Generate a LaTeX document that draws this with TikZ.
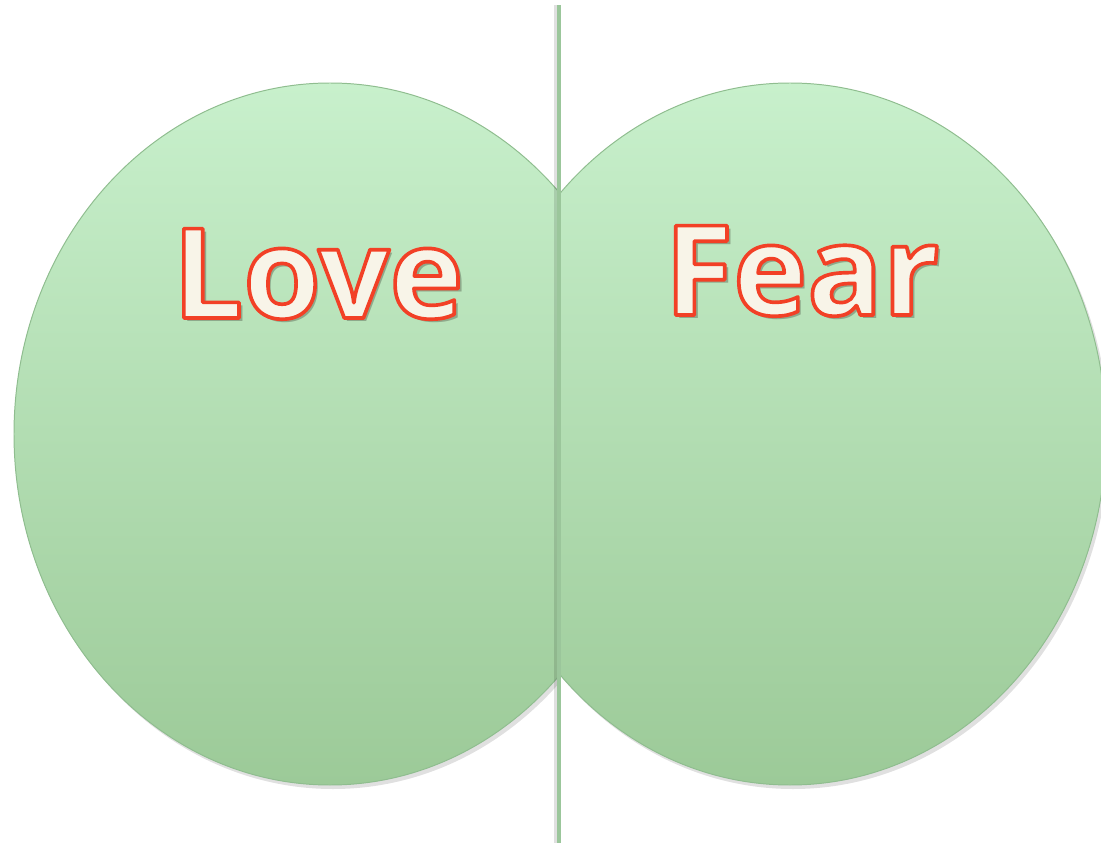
\documentclass[tikz,border=0pt]{standalone}
\usepackage{fontspec}
\setmainfont{Open Sans}
\usetikzlibrary{positioning}
\definecolor{lfTop}{HTML}{C8F0CC}
\definecolor{lfBot}{HTML}{9CCA98}
\definecolor{lfEdge}{HTML}{8FBD8F}
\definecolor{lfBar}{HTML}{9BC69B}
\definecolor{wdFill}{HTML}{F8F4E8}
\definecolor{wdShade}{HTML}{8EA98B}
\newcommand{\wordline}[1]{%
  \rlap{\kern2.6pt\raisebox{-2.6pt}{\textcolor{wdShade}{#1}}}%
  \textcolor{wdFill}{%
  \special{pdf:literal direct 0.95 0.25 0.15 RG 2.6 w 1 j 2 Tr}#1%
  \special{pdf:literal direct 0 Tr}}}

\begin{document}
\begin{tikzpicture}[x=0.025cm,y=-0.025cm,
  blob/.style={draw=lfEdge,line width=0.7pt,top color=lfTop,bottom color=lfBot},
  blobshade/.style={fill=black,opacity=0.12},
  word/.style={anchor=base,inner sep=0pt,font=\fontsize{89}{92}\selectfont\bfseries}]
  \useasboundingbox (0,0) rectangle (1101,848);
  % left half
  \begin{scope}
    \clip (0,0) rectangle (559,848);
    \fill[blobshade] (333,438) ellipse [x radius=316, y radius=351];
    \draw[blob] (330,434) ellipse [x radius=316, y radius=351];
  \end{scope}
  % right half
  \begin{scope}
    \clip (559,0) rectangle (1101,848);
    \fill[blobshade] (793,438) ellipse [x radius=316, y radius=351];
    \draw[blob] (790,434) ellipse [x radius=316, y radius=351];
  \end{scope}
  % divider
  \coordinate (top) at (559,5);
  \coordinate (bot) at (559,843);
  \draw[black,opacity=0.12,line width=3.5pt] ([xshift=-1.5pt]top) -- ([xshift=-1.5pt]bot);
  \draw[lfBar,line width=3.4pt] (top) -- (bot);
  % labels
  \node[word] (love) at (318,318) {\wordline{Love}};
  \node[word] (fear) at (802,315) {\wordline{Fear}};
\end{tikzpicture}
\end{document}
